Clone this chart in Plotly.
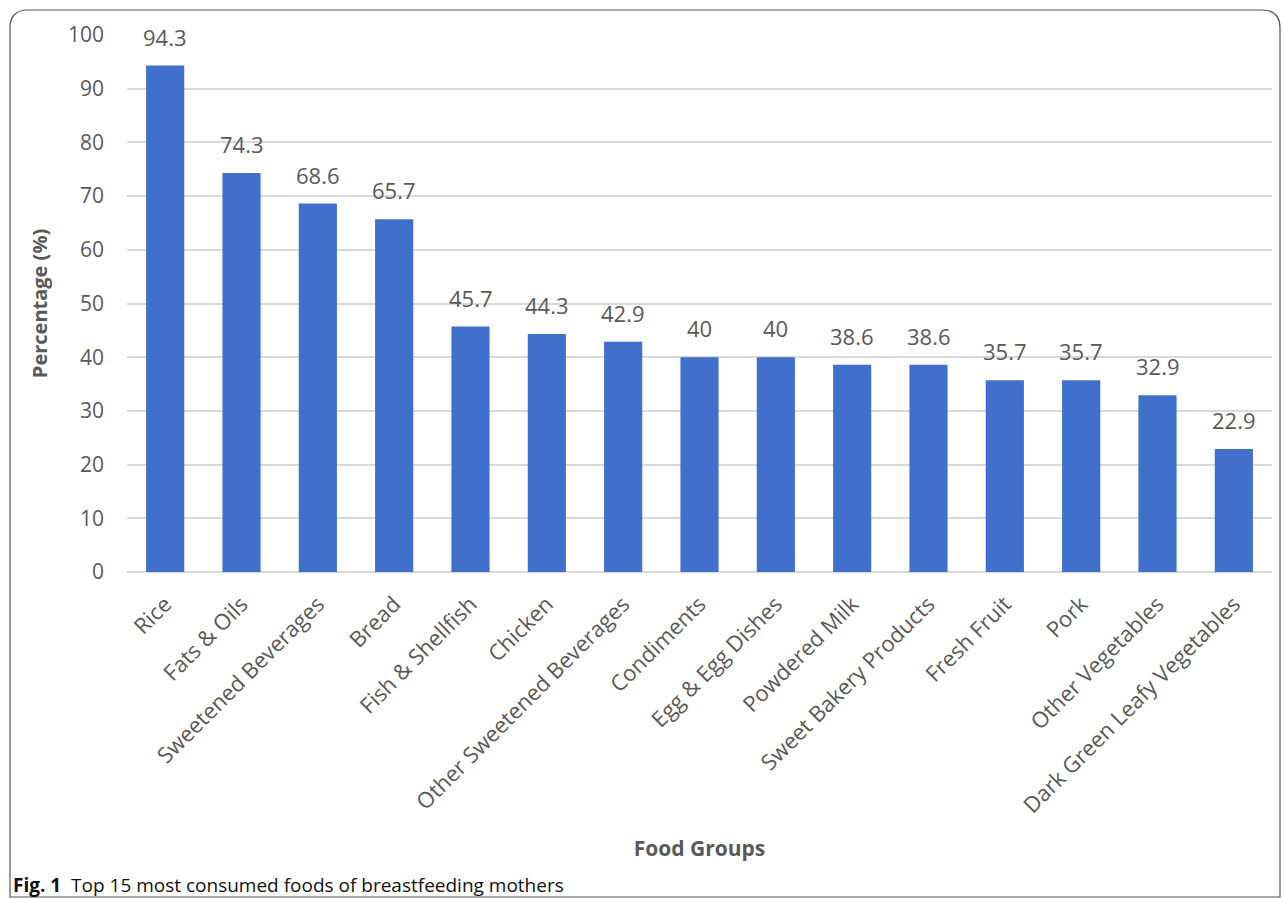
import plotly.graph_objects as go

categories = ["Rice", "Fats & Oils", "Sweetened Beverages", "Bread", "Fish & Shellfish",
              "Chicken", "Other Sweetened Beverages", "Condiments", "Egg & Egg Dishes",
              "Powdered Milk", "Sweet Bakery Products", "Fresh Fruit", "Pork",
              "Other Vegetables", "Dark Green Leafy Vegetables"]
values = [94.3, 74.3, 68.6, 65.7, 45.7, 44.3, 42.9, 40, 40, 38.6, 38.6, 35.7, 35.7, 32.9, 22.9]
labels = ["94.3", "74.3", "68.6", "65.7", "45.7", "44.3", "42.9", "40", "40", "38.6",
          "38.6", "35.7", "35.7", "32.9", "22.9"]
y_ticks = [0, 10, 20, 30, 40, 50, 60, 70, 80, 90, 100]

W, H = 1284, 898
ml, mr, mt, mb = 127, 12, 35, 326
pw, ph = W - ml - mr, H - mt - mb

def px_x(x):
    return (x - ml) / pw

def px_y(y):
    return (H - mb - y) / ph

fig = go.Figure()
fig.add_trace(go.Bar(
    x=categories, y=values,
    marker=dict(color="#4070cb", line=dict(width=0)),
    cliponaxis=False,
))

# value labels above bars
for c, v, t in zip(categories, values, labels):
    fig.add_annotation(x=c, y=v, text=t, showarrow=False, xanchor="center",
                       yanchor="bottom", yshift=12,
                       font=dict(size=22, color="#595959", family="Open Sans"))

# rounded border box
x0, x1 = px_x(10), px_x(1280)
y0, y1 = px_y(10), px_y(897)
rx = 18 / pw
ry = 18 / ph
path = (f"M {x0+rx},{y0} L {x1-rx},{y0} Q {x1},{y0} {x1},{y0-ry} "
        f"L {x1},{y1} L {x0},{y1} L {x0},{y0-ry} Q {x0},{y0} {x0+rx},{y0} Z")
fig.add_shape(type="path", path=path, xref="paper", yref="paper",
              line=dict(color="#555555", width=1.2), layer="below")

fig.add_annotation(text="<b>Fig. 1</b>  Top 15 most consumed foods of breastfeeding mothers",
                   xref="paper", yref="paper", x=px_x(11), y=px_y(885),
                   xanchor="left", yanchor="middle", showarrow=False,
                   font=dict(size=19, color="#111111", family="Open Sans"))

fig.update_layout(
    width=W, height=H,
    margin=dict(l=ml, r=mr, t=mt, b=mb),
    paper_bgcolor="white", plot_bgcolor="white",
    bargap=0.5,
    showlegend=False,
    font=dict(family="Open Sans", color="#595959"),
    xaxis=dict(
        tickangle=-45, tickfont=dict(size=22, color="#595959"),
        showgrid=False, showline=False, ticks="",
        ticklabelstandoff=14,
        title=dict(text="<b>Food Groups</b>", font=dict(size=21, color="#595959"), standoff=23),
    ),
    yaxis=dict(
        range=[0, 100], tickvals=y_ticks, tickfont=dict(size=21, color="#595959"),
        showgrid=True, gridcolor="#d9d9d9", gridwidth=1.5, zeroline=True,
        zerolinecolor="#d9d9d9", zerolinewidth=1.5, showline=False, ticks="",
        ticklabelstandoff=22,
        title=dict(text="<b>Percentage (%)</b>", font=dict(size=20, color="#595959"), standoff=14),
    ),
)

fig.write_html("out.html", config={"displayModeBar": False},
               post_script="document.body.style.margin='0';document.body.style.overflow='hidden';")
